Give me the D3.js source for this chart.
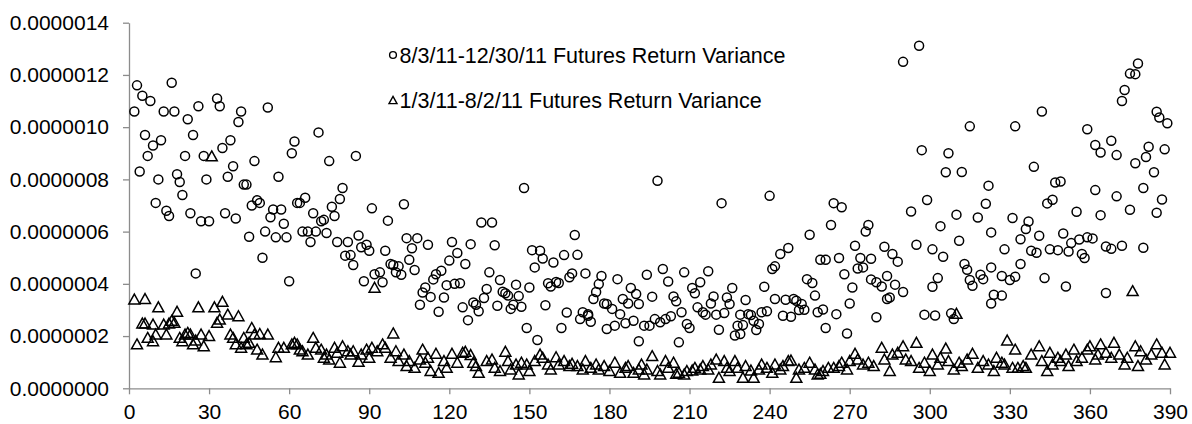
<!DOCTYPE html>
<html>
<head>
<meta charset="utf-8">
<script src="https://cdn.jsdelivr.net/npm/d3@7"></script>
<style>
  html, body { margin: 0; padding: 0; background: #fff; }
  svg { display: block; font-family: Arial, "Liberation Sans", sans-serif; }
</style>
</head>
<body>
<svg id="chart" width="1192" height="424"></svg>
<script>
// values are variances in units of 1e-7, x is the minute of the session (1..390)
var UNIT = 1e-7;
var xTicks = d3.range(0, 391, 30);
var yTicks = [0, 2, 4, 6, 8, 10, 12, 14];
var recentLabel = '8/3/11-12/30/11 Futures Return Variance';
var earlyLabel = '1/3/11-8/2/11 Futures Return Variance';

// 8/3/11-12/30/11 (circles)
var recentPts = [
  [2,10.6],[3,11.6],[4,8.3],[5,11.2],[6,9.7],[7,8.9],[8,11.0],[9,9.3],[10,7.1],[11,8.0],[12,9.5],[13,10.6],[14,6.8],[15,6.6],
  [16,11.7],[17,10.6],[18,8.2],[19,7.9],[20,7.4],[21,8.9],[22,10.3],[23,6.7],[24,9.7],[25,4.4],[26,10.8],[27,6.4],[28,8.9],
  [29,8.0],[30,6.4],[33,11.1],[34,10.8],[35,9.2],[36,6.7],[37,8.1],[38,9.5],[39,8.5],[40,6.5],[41,10.2],[42,10.6],[43,7.8],
  [44,7.8],[45,5.8],[46,7.0],[47,8.7],[48,7.2],[49,7.1],[50,5.0],[51,6.0],[52,10.75],[53,6.55],[54,6.85],[55,5.78],[56,8.1],
  [57,6.85],[58,6.3],[59,5.78],[60,4.1],[61,9.0],[62,9.45],[63,7.1],[64,7.1],[65,6.0],[66,7.3],[67,6.0],[68,5.6],[69,6.7],
  [70,6.0],[71,9.8],[72,6.4],[73,6.45],[74,5.95],[75,8.7],[76,6.95],[77,6.6],[78,5.6],[79,7.25],[80,7.67],[81,5.08],[82,5.6],
  [83,5.1],[84,4.72],[85,8.9],[86,5.85],[87,5.4],[88,4.1],[89,5.5],[90,5.27],[91,6.89],[92,4.37],[94,4.44],[95,4.06],[96,5.27],
  [97,6.42],[98,4.76],[99,4.72],[100,4.44],[101,4.67],[102,4.35],[103,7.05],[104,5.75],[105,4.92],[106,5.36],[107,4.53],
  [108,5.75],[109,3.2],[110,3.67],[111,3.86],[112,5.5],[113,3.5],[114,4.17],[115,4.37],[116,2.93],[117,4.5],[118,3.48],
  [119,3.95],[120,4.89],[121,5.6],[122,4.0],[123,5.18],[124,4.02],[125,3.1],[126,4.76],[127,2.61],[128,5.52],[129,3.29],
  [130,3.2],[131,2.95],[132,6.35],[133,3.46],[134,3.8],[135,4.44],[136,6.35],[137,5.48],[138,3.16],[139,4.15],[140,3.7],
  [141,3.64],[142,3.55],[143,3.04],[144,3.2],[145,3.97],[146,3.53],[147,3.12],[148,7.67],[149,2.31],[150,3.86],[151,5.29],
  [152,4.63],[153,1.85],[154,5.27],[155,4.97],[156,3.18],[157,4.02],[158,3.9],[159,4.82],[160,4.07],[161,4.03],[162,2.31],
  [163,5.1],[164,2.9],[165,4.25],[166,4.4],[167,5.87],[168,5.11],[169,2.65],[170,2.91],[171,4.4],[172,2.84],[172,2.78],
  [173,2.55],[174,3.42],[175,3.69],[176,3.99],[177,4.3],[178,3.25],[179,3.23],[179,2.27],[181,3.04],[182,2.4],[183,4.18],
  [184,2.84],[185,3.42],[186,2.49],[187,3.25],[188,3.84],[189,2.59],[190,3.61],[191,1.8],[191,3.23],[193,2.4],[194,4.35],
  [195,2.4],[196,3.51],[197,2.65],[198,7.95],[199,2.53],[200,4.57],[201,2.65],[202,4.09],[203,2.76],[204,3.52],[205,3.33],
  [206,1.76],[207,2.91],[208,4.44],[209,2.46],[210,2.31],[211,3.84],[212,3.64],[213,3.1],[214,4.06],[215,2.91],[216,2.82],
  [217,4.48],[218,3.25],[219,3.52],[220,2.82],[221,2.24],[222,7.09],[223,2.88],[224,3.48],[225,3.23],[226,3.84],[227,2.02],
  [228,2.4],[229,2.08],[229,2.82],[230,2.42],[231,3.38],[232,2.84],[233,2.81],[234,2.59],[235,2.23],[236,2.46],[237,2.91],
  [238,3.89],[239,2.95],[240,7.37],[241,4.57],[242,4.67],[242,3.42],[244,5.14],[245,2.78],[246,3.39],[247,5.37],[248,2.74],
  [249,3.42],[250,3.35],[251,3.0],[252,3.23],[253,3.01],[254,4.18],[255,5.88],[256,4.03],[257,3.55],[258,2.91],[259,4.92],
  [260,3.02],[261,4.92],[261,2.31],[263,6.25],[264,7.09],[265,2.84],[266,4.99],[267,6.93],[268,4.37],[269,2.1],[270,3.25],
  [271,3.86],[272,5.46],[273,4.59],[274,4.99],[275,4.63],[276,6.0],[277,6.25],[278,4.96],[278,4.17],[280,2.72],[280,4.06],
  [282,3.9],[283,5.42],[284,3.42],[284,4.3],[285,3.48],[286,5.14],[287,3.97],[288,4.85],[290,12.5],[290,3.69],[293,6.77],
  [295,5.5],[296,13.12],[297,9.12],[298,2.82],[299,7.21],[301,5.32],[301,3.89],[302,2.79],[303,4.22],[304,6.21],[305,5.04],
  [306,8.27],[307,9.0],[308,2.87],[309,2.65],[310,6.65],[311,5.65],[312,8.28],[313,4.76],[314,4.54],[315,10.03],[315,4.15],
  [316,3.93],[318,6.54],[319,4.35],[320,4.18],[321,7.07],[322,7.76],[323,4.63],[323,3.25],[323,5.97],[324,3.58],[327,4.3],
  [327,3.55],[328,5.32],[330,4.15],[331,6.52],[332,10.03],[332,4.27],[334,5.71],[334,4.76],[336,6.1],[337,6.39],[338,5.27],
  [339,8.48],[340,5.19],[341,5.84],[342,10.6],[343,4.22],[344,7.08],[345,5.32],[346,7.22],[347,7.88],[348,5.29],[349,7.92],
  [350,5.93],[351,3.9],[352,5.24],[353,5.56],[355,6.76],[356,5.7],[357,5.14],[358,4.99],[359,9.92],[359,5.78],[361,5.74],
  [362,9.32],[362,7.59],[364,9.03],[364,6.63],[366,5.43],[366,3.65],[368,9.48],[368,5.34],[370,8.93],[370,7.35],[372,11.0],
  [372,5.46],[373,11.42],[375,12.05],[375,6.84],[377,12.03],[377,8.62],[378,12.44],[380,5.38],[380,7.67],[381,8.86],
  [382,9.25],[384,8.27],[385,10.59],[385,6.72],[386,10.37],[387,7.23],[388,9.15],[389,10.15]
];

// 1/3/11-8/2/11 (triangles)
var earlyPts = [
  [2,3.42],[3,1.7],[5,2.5],[6,3.44],[6,2.5],[7,1.95],[9,1.82],[9,2.46],[10,2.08],[11,3.12],[13,2.46],[14,2.08],[15,2.5],
  [16,2.6],[17,2.53],[18,2.95],[19,1.95],[20,1.82],[21,2.08],[22,2.14],[23,2.08],[24,1.7],[25,1.85],[26,3.12],[27,2.08],
  [28,1.63],[30,2.02],[31,8.9],[32,3.12],[33,2.53],[34,2.65],[35,3.33],[37,2.84],[38,2.08],[39,1.95],[40,1.7],[41,2.78],
  [42,1.57],[43,1.95],[44,1.7],[45,1.76],[46,2.33],[47,2.08],[48,1.5],[49,2.1],[50,1.31],[52,2.08],[55,1.21],[56,1.57],
  [58,1.57],[61,1.7],[62,1.76],[63,1.7],[64,1.5],[65,1.44],[67,1.31],[69,1.95],[70,1.57],[72,1.5],[73,1.19],[74,1.31],
  [75,1.12],[77,1.57],[78,1.38],[79,1.0],[80,1.63],[82,1.44],[83,1.31],[84,1.44],[86,1.03],[87,1.31],[89,1.5],[90,1.19],
  [91,1.57],[92,3.87],[93,1.44],[95,1.7],[96,1.57],[98,1.19],[99,2.12],[100,1.44],[101,1.06],[103,1.31],[104,0.87],
  [105,1.06],[107,0.8],[109,1.12],[110,1.5],[111,1.0],[112,1.19],[113,0.68],[115,1.34],[116,0.61],[118,1.06],[119,0.8],
  [121,1.34],[123,1.0],[125,1.38],[126,1.42],[128,1.29],[129,1.0],[130,0.87],[131,0.61],[134,1.06],[136,1.12],[137,0.8],
  [139,0.68],[141,1.42],[142,1.06],[143,0.74],[145,0.93],[146,0.55],[147,1.0],[149,0.93],[150,0.68],[152,1.06],[154,1.31],
  [155,1.19],[157,0.93],[158,0.74],[160,1.21],[161,0.93],[163,1.06],[165,0.87],[166,0.96],[168,0.87],[170,0.74],[171,1.06],
  [173,0.8],[175,0.93],[176,0.74],[178,0.87],[180,0.68],[182,1.0],[184,0.61],[186,0.8],[187,0.87],[189,0.61],[191,0.74],
  [192,0.93],[193,0.55],[194,0.74],[196,1.25],[198,0.68],[199,0.55],[201,1.06],[202,0.8],[204,1.0],[205,0.57],[206,0.61],
  [208,0.55],[209,0.68],[211,0.7],[212,0.8],[214,0.74],[215,0.87],[217,0.74],[218,0.93],[220,1.12],[221,0.42],[223,1.06],
  [224,0.8],[225,0.68],[227,1.06],[228,0.8],[230,0.42],[231,0.87],[233,0.7],[234,0.42],[236,0.74],[237,0.93],[239,0.8],
  [241,0.61],[242,0.93],[244,0.74],[245,0.87],[247,1.06],[248,1.08],[250,0.42],[251,0.74],[253,0.8],[255,1.0],[257,0.74],
  [258,0.55],[259,0.57],[260,0.68],[262,0.8],[264,0.8],[266,0.87],[267,1.0],[269,0.74],[270,1.06],[272,1.34],[273,1.12],
  [275,0.93],[277,1.0],[279,0.87],[282,1.57],[283,1.12],[285,0.68],[286,1.31],[288,1.38],[290,1.63],[291,1.12],[293,1.06],
  [295,1.76],[296,0.8],[298,1.0],[300,0.68],[301,1.31],[303,0.93],[304,1.19],[306,1.54],[307,1.06],[309,0.74],[310,2.87],
  [311,1.0],[312,0.87],[314,1.12],[316,1.34],[318,0.8],[320,1.06],[322,0.93],[324,0.68],[325,1.19],[327,1.0],[328,0.93],
  [329,1.85],[331,0.8],[332,1.5],[333,0.8],[335,0.87],[336,0.8],[338,1.31],[341,1.63],[342,1.06],[344,0.68],[345,1.38],
  [346,0.93],[348,1.19],[349,1.06],[351,1.31],[352,0.87],[354,1.5],[355,1.06],[357,1.19],[359,1.5],[360,1.63],[362,1.12],
  [363,1.31],[364,1.7],[366,1.38],[368,1.19],[369,1.76],[371,1.31],[373,0.93],[374,1.19],[376,3.74],[377,1.63],[378,0.87],
  [379,1.44],[381,1.12],[383,1.31],[385,1.7],[387,1.38],[388,0.93],[390,1.38]
];

(function () {
  var svg = d3.select('#chart');
  var x = d3.scaleLinear().domain([0, 390]).range([129, 1170]);
  var y = d3.scaleLinear().domain([0, 14 * UNIT]).range([388.3, 22.7]);
  var AXIS = '#8c8c8c', FONT = 21;

  // axes
  var gx = svg.append('g').attr('transform', 'translate(0,' + y(0) + ')')
    .call(d3.axisBottom(x).tickValues(xTicks).tickSize(6).tickSizeOuter(0).tickPadding(10));
  var gy = svg.append('g').attr('transform', 'translate(' + x(0) + ',0)')
    .call(d3.axisLeft(y).tickValues(yTicks.map(function (v) { return v * UNIT; }))
      .tickFormat(d3.format('.7f')).tickSize(6).tickSizeOuter(0).tickPadding(14));
  [gx, gy].forEach(function (g) {
    g.select('.domain').attr('stroke', AXIS).attr('stroke-width', 1.3);
    g.selectAll('.tick line').attr('stroke', AXIS).attr('stroke-width', 1.3);
    g.selectAll('.tick text').attr('font-size', FONT).attr('fill', '#000').attr('font-family', 'Arial, "Liberation Sans", sans-serif');
  });

  function tri(s) { // upright triangle centred on its box
    var h = s * 0.9, w = s;
    return 'M0,' + (-h / 2) + 'L' + (w / 2) + ',' + (h / 2) + 'L' + (-w / 2) + ',' + (h / 2) + 'Z';
  }

  // series 1: circles
  svg.append('g').selectAll('circle').data(recentPts).enter().append('circle')
    .attr('cx', function (d) { return x(d[0]); })
    .attr('cy', function (d) { return y(d[1] * UNIT); })
    .attr('r', 4.5).attr('fill', 'none').attr('stroke', '#000').attr('stroke-width', 1.5);

  // series 2: triangles
  svg.append('g').selectAll('path').data(earlyPts).enter().append('path')
    .attr('transform', function (d) { return 'translate(' + x(d[0]) + ',' + y(d[1] * UNIT) + ')'; })
    .attr('d', tri(11)).attr('fill', 'none').attr('stroke', '#000').attr('stroke-width', 1.5).attr('stroke-linejoin', 'miter');

  // legend
  var lg = svg.append('g').attr('transform', 'translate(393,0)');
  var items = [{ label: recentLabel, y: 55, shape: 'c' }, { label: earlyLabel, y: 100, shape: 't' }];
  items.forEach(function (it) {
    if (it.shape === 'c') lg.append('circle').attr('cx', 0).attr('cy', it.y).attr('r', 3.4).attr('fill', 'none').attr('stroke', '#000').attr('stroke-width', 1.4);
    else lg.append('path').attr('transform', 'translate(0,' + it.y + ')').attr('d', tri(8)).attr('fill', 'none').attr('stroke', '#000').attr('stroke-width', 1.4);
    lg.append('text').attr('x', 6.5).attr('y', it.y).attr('dy', '0.36em').attr('font-size', 21.5).attr('fill', '#000').text(it.label);
  });
})();
</script>
</body>
</html>
